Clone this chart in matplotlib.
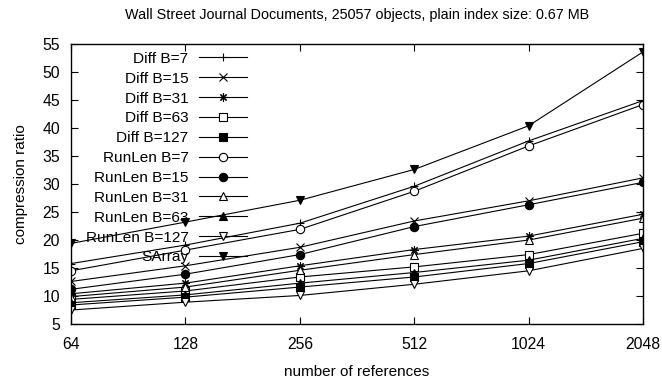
import matplotlib
matplotlib.use("Agg")
import matplotlib.pyplot as plt

plt.rcParams['font.family'] = ['Liberation Sans', 'DejaVu Sans']

refs = [64, 128, 256, 512, 1024, 2048]

diff_7 = [15.8, 19.1, 23.0, 29.6, 37.7, 44.9]
diff_15 = [12.6, 15.4, 18.7, 23.4, 27.0, 31.1]
diff_31 = [10.4, 12.3, 15.4, 18.3, 20.7, 24.6]
diff_63 = [9.4, 10.9, 13.4, 15.2, 17.4, 21.2]
diff_127 = [8.4, 9.8, 11.6, 13.4, 15.8, 19.7]
runlen_7 = [14.5, 18.2, 21.9, 28.7, 36.8, 44.2]
runlen_15 = [11.2, 13.9, 17.4, 22.4, 26.3, 30.3]
runlen_31 = [9.9, 11.6, 14.6, 17.4, 20.0, 23.9]
runlen_63 = [8.8, 10.2, 12.3, 14.2, 16.4, 20.3]
runlen_127 = [7.5, 8.9, 10.1, 12.1, 14.5, 18.5]
sarray = [19.4, 23.2, 27.1, 32.6, 40.4, 53.6]

names = ['Diff B=7', 'Diff B=15', 'Diff B=31', 'Diff B=63', 'Diff B=127',
         'RunLen B=7', 'RunLen B=15', 'RunLen B=31', 'RunLen B=63', 'RunLen B=127',
         'SArray']
series = [diff_7, diff_15, diff_31, diff_63, diff_127,
          runlen_7, runlen_15, runlen_31, runlen_63, runlen_127, sarray]

# gnuplot-like point types
markers = ['+', 'x', (8, 2, 0), 's', 's', 'o', 'o', '^', '^', 'v', 'v']
filled = [True, True, True, False, True, False, True, False, True, False, True]

fig = plt.figure(figsize=(6.62, 3.83), dpi=100)
ax = fig.add_axes([0.1073, 0.154, 0.864, 0.731])

for name, vals, m, f in zip(names, series, markers, filled):
    ax.plot(refs, vals, color='black', lw=0.8, marker=m, ms=6, mew=0.8,
            mfc='black' if f else 'white', mec='black', label=name)

ax.set_xscale('log', base=2)
ax.set_xlim(64, 2048)
ax.set_ylim(5, 55)
ax.set_xticks(refs)
ax.set_xticklabels([str(r) for r in refs])
ax.minorticks_off()
ax.set_yticks(range(5, 56, 5))
ax.tick_params(direction='in', top=True, right=True, labelsize=11.3, length=5, width=0.8)
ax.tick_params(axis='x', pad=9)
ax.tick_params(axis='y', pad=8)
for s in ax.spines.values():
    s.set_linewidth(1.0)

ax.set_xlabel('number of references', fontsize=11, labelpad=10)
ax.set_ylabel('compression ratio', fontsize=11, labelpad=10)
ax.set_title('Wall Street Journal Documents, 25057 objects, plain index size: 0.67 MB',
             fontsize=10.4, pad=18)

ax.legend(loc='upper right', bbox_to_anchor=(0.308, 0.972), frameon=False,
          markerfirst=False, fontsize=11.1, handlelength=3.1, handletextpad=0.7,
          labelspacing=0.38, borderpad=0, borderaxespad=0)

fig.savefig('out.png', dpi=100)
